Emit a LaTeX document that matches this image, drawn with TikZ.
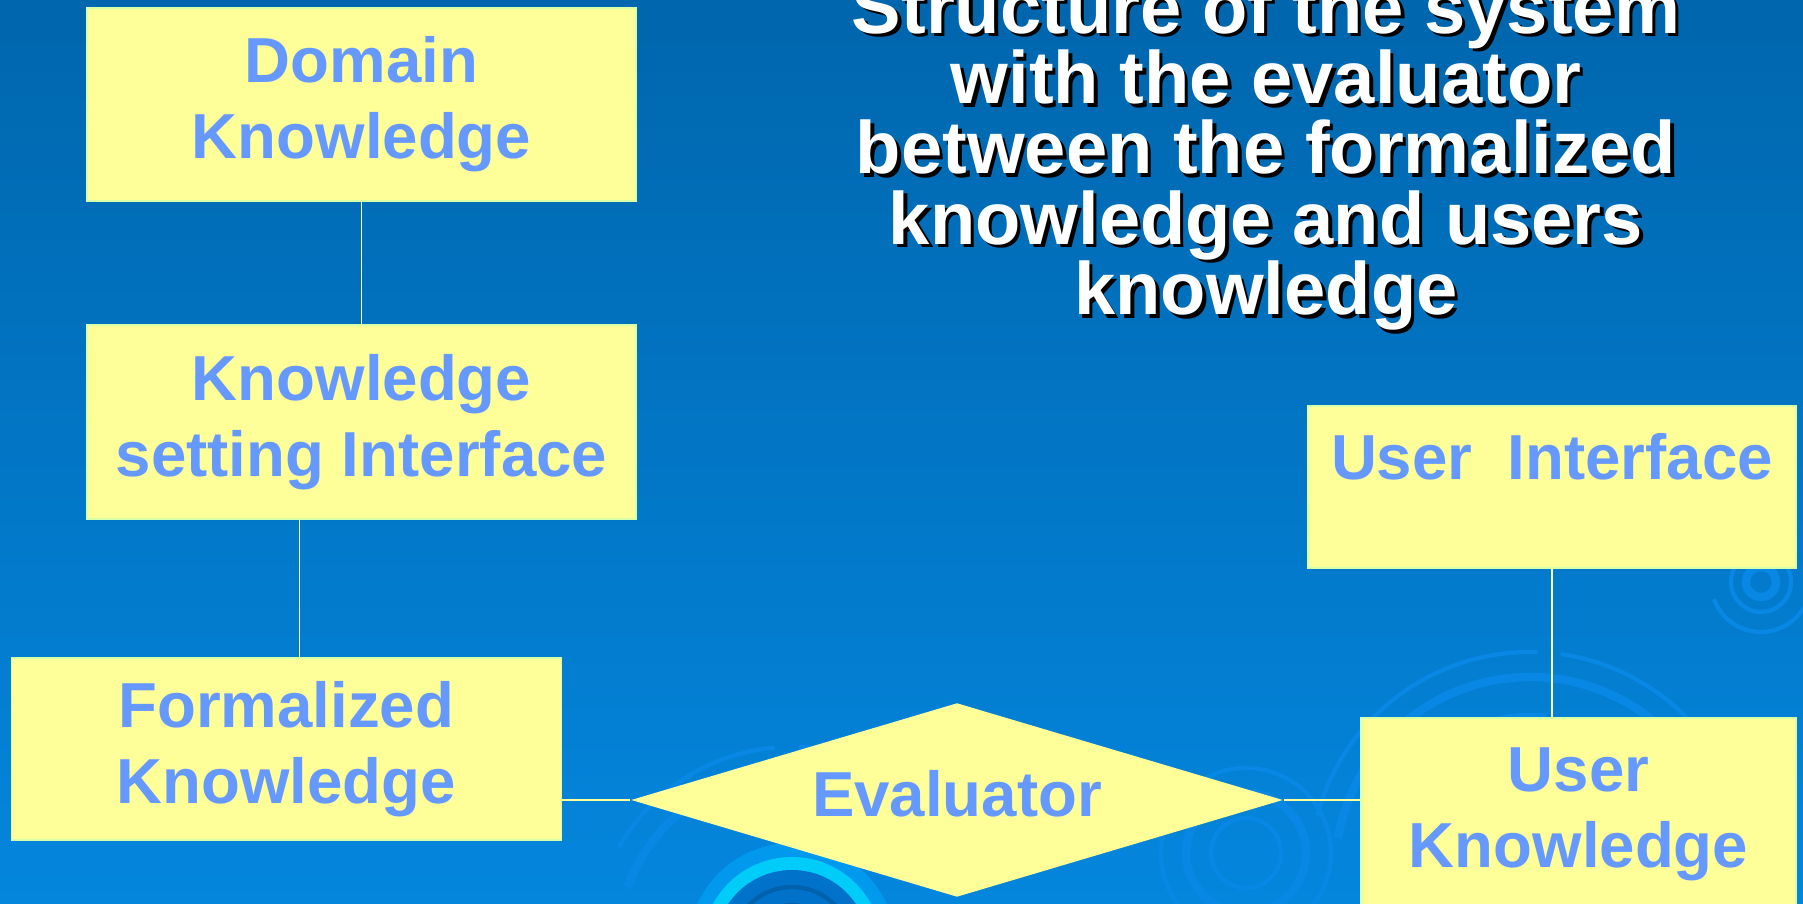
\documentclass[tikz,border=0pt]{standalone}
\usepackage{fontspec}
\setmainfont{Liberation Sans}
\usepackage{tikz}
\usetikzlibrary{shapes.geometric}

\definecolor{bgtop}{RGB}{0,102,173}
\definecolor{bgbottom}{RGB}{4,134,221}
\definecolor{boxfill}{RGB}{255,255,153}
\definecolor{boxtext}{RGB}{102,153,255}
\definecolor{ripple}{RGB}{8,136,228}
\definecolor{ringouter}{RGB}{0,153,238}
\definecolor{ringcyan}{RGB}{0,204,250}
\definecolor{ringinner}{RGB}{0,114,202}

\newcommand{\slidetitle}{Structure of the system\\with the evaluator\\between the formalized\\knowledge and users\\knowledge}

\begin{document}
\begin{tikzpicture}
    [
      block/.style={rectangle,fill=boxfill,draw=boxfill!85!cyan,line width=0.3pt,inner sep=0pt,align=center,text=boxtext,font=\fontsize{18.1pt}{21.6pt}\selectfont\bfseries},
      decision/.style={diamond,aspect=3.36,fill=boxfill,inner sep=0pt,text=boxtext,text depth=1.4mm,minimum width=6.52cm,minimum height=1.94cm,font=\fontsize{18.1pt}{21.6pt}\selectfont\bfseries},
      link/.style={draw=boxfill,line width=0.5pt},
      heading/.style={align=center,font=\fontsize{21.1pt}{20.0pt}\selectfont\bfseries},
      ring/.style={draw=ripple,line width=1.2pt},
      thickring/.style={draw=ripple,line width=2.4pt},
    ]

    \useasboundingbox (0,0) rectangle (18.03,9.04);
    \shade [top color=bgtop,middle color=bgtop,bottom color=bgbottom] (0,0) rectangle (18.03,9.04);

    % ripples in the background
    \draw [ring] (7.92,-0.43) ++(95:2.0) arc (95:150:2.0);
    \draw [thickring] (7.92,-0.43) ++(100:1.75) arc (100:160:1.75);
    \draw [ring] (7.92,-0.43) ++(60:2.0) arc (60:88:2.0);
    \fill [ringouter] (7.92,-0.43) circle (1.04);
    \fill [ringcyan] (7.92,-0.43) circle (0.90);
    \fill [ringinner] (7.92,-0.43) circle (0.77);
    \draw [ring,draw=ringinner!85!black] (7.92,-0.43) circle (0.6);
    \draw [ring,draw=ringinner!85!black] (7.92,-0.43) circle (0.42);

    \draw [ring] (15.30,0.32) ++(20:2.2) arc (20:82:2.2);
    \draw [ring] (15.30,0.32) ++(88:2.2) arc (88:165:2.2);
    \draw [thickring] (15.30,0.32) ++(15:1.95) arc (15:170:1.95);
    \draw [thickring] (15.30,0.32) ++(30:1.55) arc (30:78:1.55);
    \draw [thickring] (15.30,0.32) ++(84:1.55) arc (84:150:1.55);

    \draw [ring] (12.46,0.51) circle (0.35);
    \draw [thickring] (12.46,0.51) circle (0.6);
    \draw [ring] (12.46,0.51) circle (0.85);

    \draw [thickring] (17.61,3.22) circle (0.15);
    \draw [ring] (17.61,3.22) circle (0.3);
    \draw [ring] (17.61,3.22) ++(200:0.5) arc (200:330:0.5);

    % title with its shadow
    \node (title-shadow) [heading,text=black] at (12.695,7.455) {\slidetitle};
    \node (title) [heading,text=white] at (12.66,7.49) {\slidetitle};

    % boxes
    \node (dk) [block,minimum width=5.49cm,minimum height=1.93cm] at (3.615,7.995) {Domain\\Knowledge};
    \node (ksi) [block,minimum width=5.49cm,minimum height=1.94cm] at (3.615,4.82) {Knowledge\\setting Interface};
    \node (fk) [block,minimum width=5.495cm,minimum height=1.82cm] at (2.863,1.55) {Formalized\\Knowledge};
    \node (ev) [decision] at (9.57,1.04) {Evaluator};
    \node (ui) [block,minimum width=4.88cm,text height=7.4mm,text depth=8.8mm] at (15.52,4.17) {User~~Interface};
    \node (uk) [block,minimum width=4.35cm,minimum height=1.92cm] at (15.785,0.90) {User\\Knowledge};

    \path
    (dk) edge [link] (ksi)
    ([xshift=2.13cm]ksi.south west) edge [link] ([xshift=2.13cm]ksi.south west |- fk.north)
    (fk.east |- ev.west) edge [link] (ev.west)
    (ev.east) edge [link] (ev.east -| uk.west)
    (ui.south) edge [link] (ui.south |- uk.north)
    ;

\end{tikzpicture}
\end{document}
